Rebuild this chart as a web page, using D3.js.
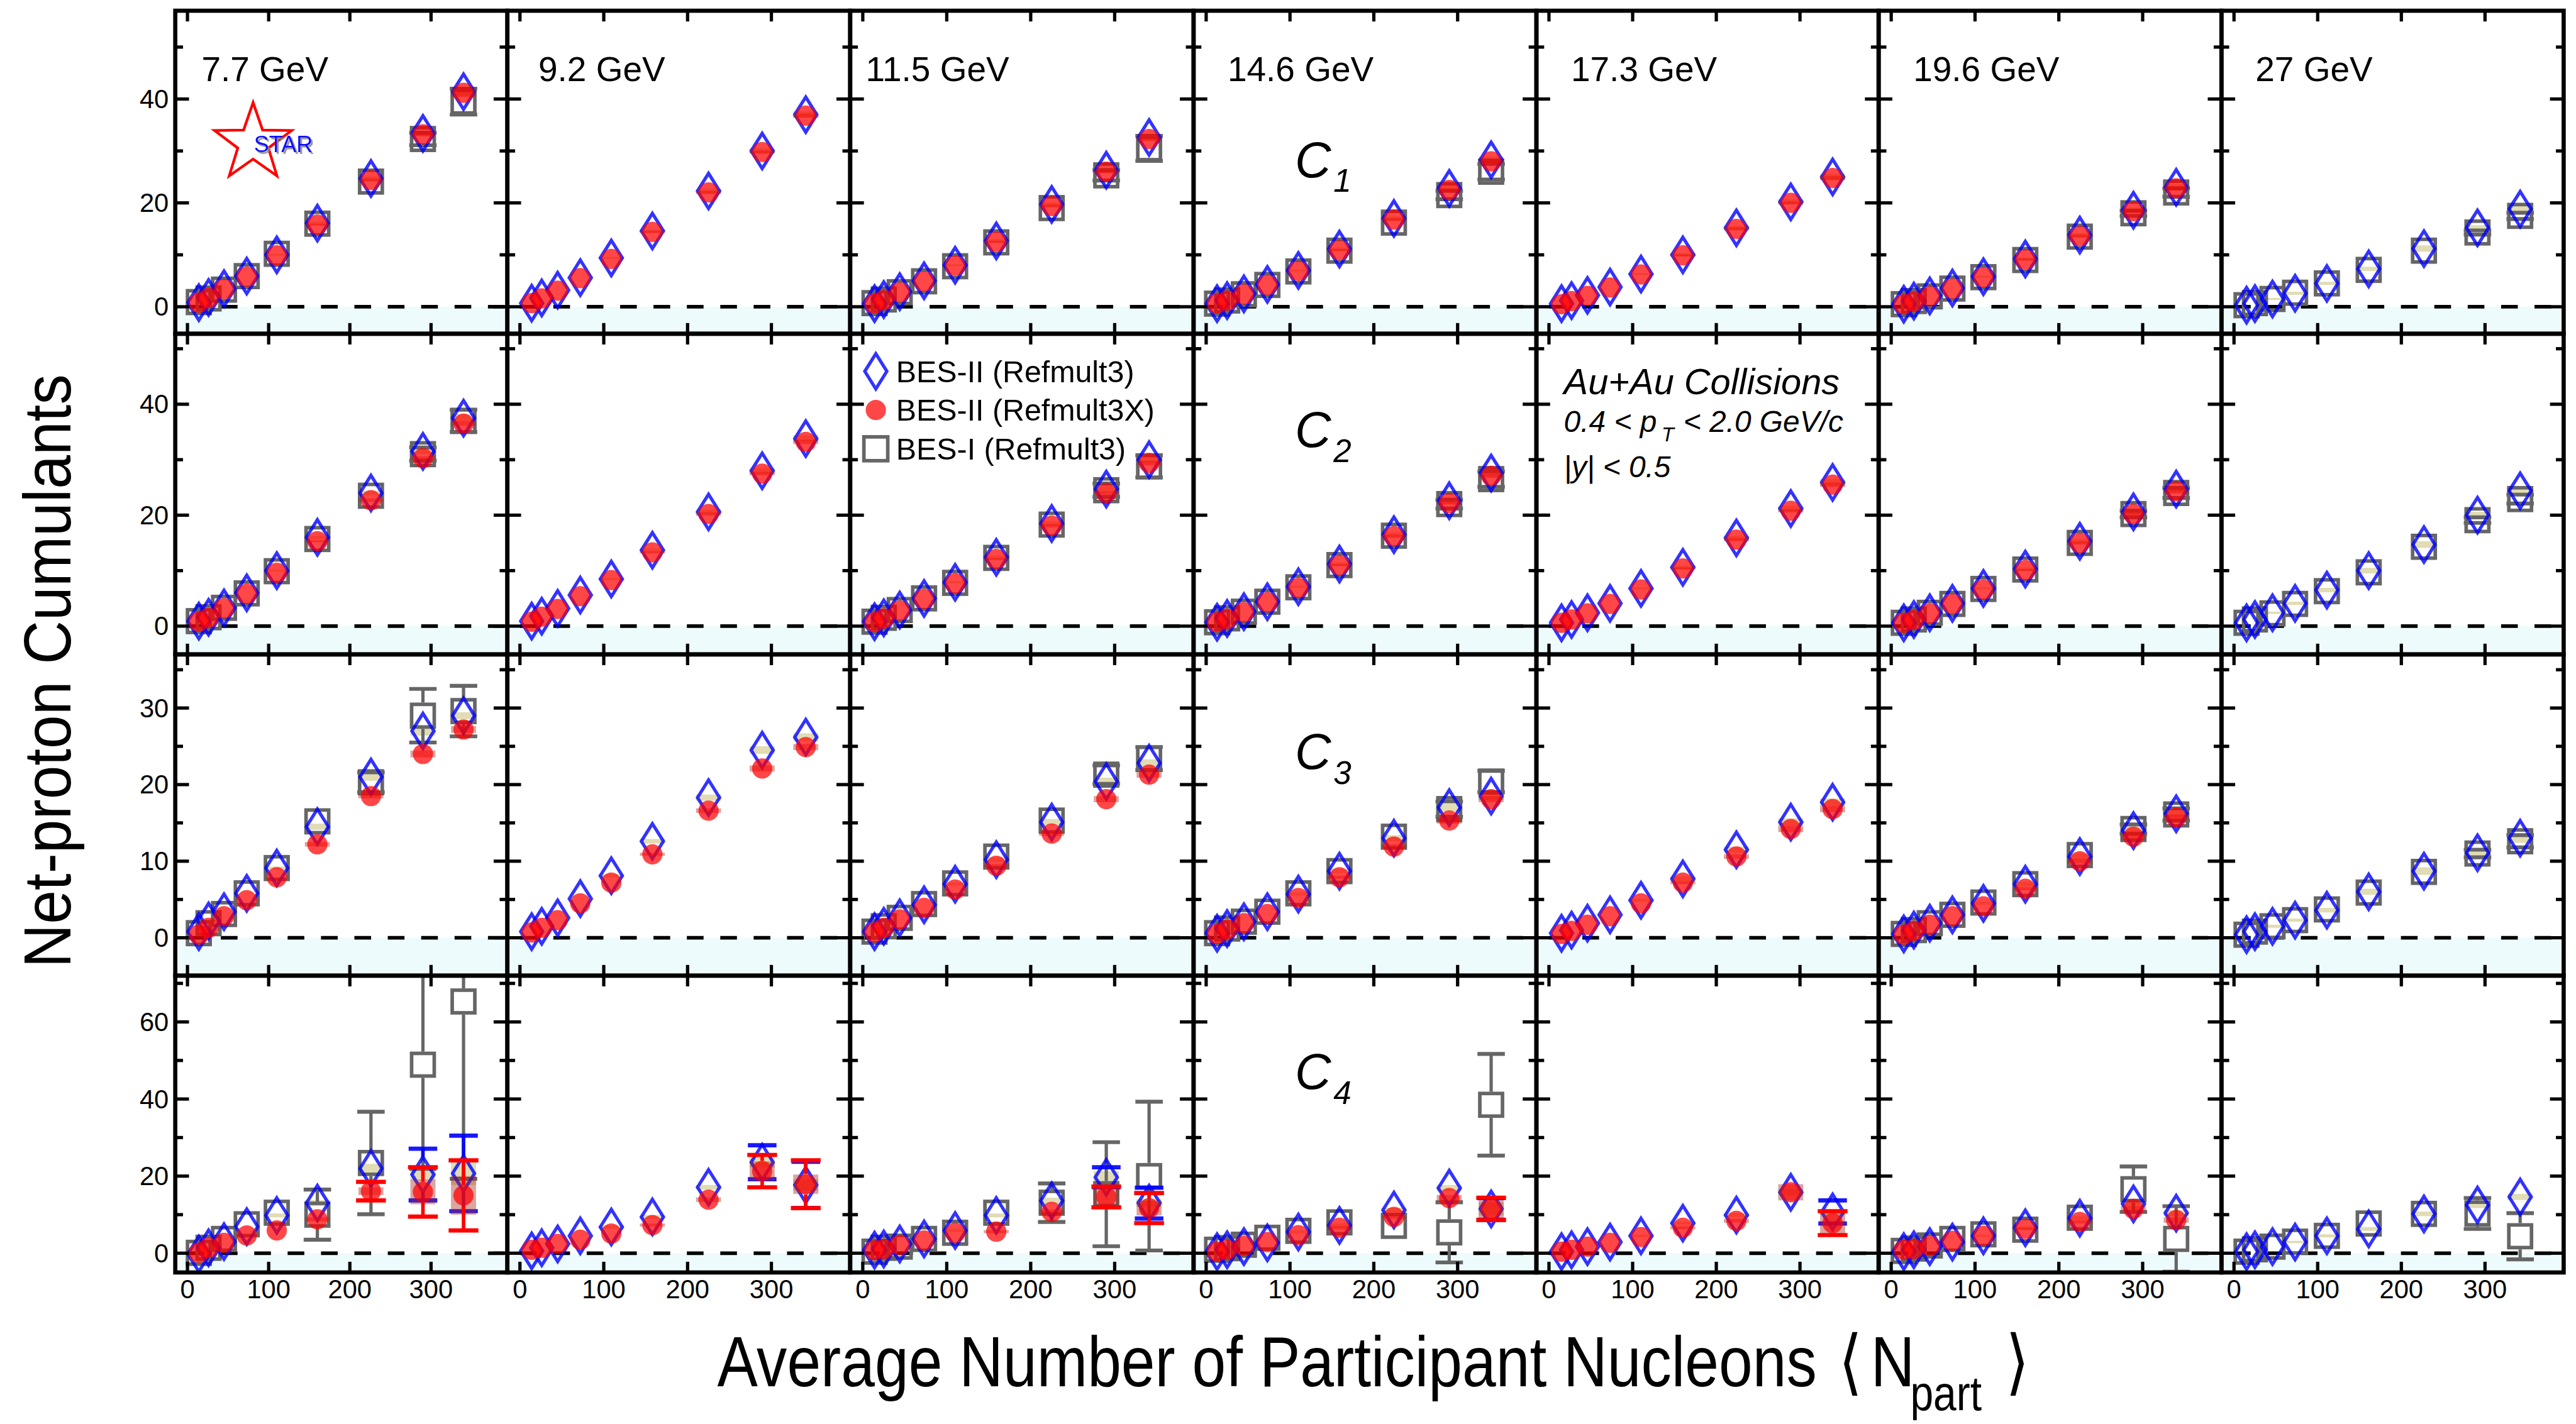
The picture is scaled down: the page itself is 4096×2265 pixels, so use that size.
<!DOCTYPE html>
<html><head><meta charset="utf-8">
<script src="https://cdn.jsdelivr.net/npm/d3@7/dist/d3.min.js"></script>
<style>html,body{margin:0;padding:0;background:#fff;overflow:hidden}svg{display:block}</style>
</head><body>
<script>
// ---------------- DATA ----------------
const energies = ["7.7 GeV","9.2 GeV","11.5 GeV","14.6 GeV","17.3 GeV","19.6 GeV","27 GeV"];
const cumulantOrders = ["1","2","3","4"];
const seriesNames = ["BES-II (Refmult3)","BES-II (Refmult3X)","BES-I (Refmult3)"];
const xTicks = [0,100,200,300];
const yTicks = [[0,20,40],[0,20,40],[0,10,20,30],[0,20,40,60]];
const yMinorTicks = [[10,30,50],[10,30,50],[5,15,25,35],[10,30,50,70]];
const xDomain = [-15,394];
const yDomains = [[-5.2,57],[-5.1,52.7],[-4.95,37],[-5,72]];

const npart = [
 [14,26,45,73,110,160,226,290,340],
 [14,26,45,72,109,158,225,289,341],
 [14,25,44,73,110,159,225,290,341],
 [13,25,45,73,110,159,224,290,340],
 [15,27,46,73,110,160,224,289,339],
 [15,27,46,73,110,160,225,289,340],
 [15,25,46,73,111,161,227,291,342]
];

// C1
const c1Ref3 = [
 [0.8,1.8,3.5,5.9,10.0,16.1,24.7,33.4,41.4],
 [0.7,1.7,3.2,5.6,9.4,14.6,22.3,30.0,37.0],
 [0.6,1.4,2.9,5.0,8.0,12.7,19.7,26.3,32.6],
 [0.6,1.2,2.5,4.3,7.0,11.1,17.0,22.8,28.3],
 [0.6,1.2,2.2,3.8,6.3,10.0,15.2,20.2,25.0],
 [0.5,1.1,2.1,3.6,5.8,9.2,13.8,18.6,23.0],
 [0.3,0.6,1.5,2.6,4.5,7.3,11.2,15.2,18.8]
];
const c1Ref3X = [
 [0.8,1.7,3.4,5.8,9.9,15.8,24.4,33.2,41.2],
 [0.7,1.6,3.1,5.5,9.2,14.4,22.0,29.8,36.8],
 [0.6,1.3,2.8,4.9,7.9,12.5,19.4,26.0,32.3],
 [0.6,1.2,2.4,4.2,6.9,10.9,16.8,22.5,28.0],
 [0.5,1.1,2.1,3.7,6.2,9.9,15.0,20.0,24.8],
 [0.5,1.0,2.0,3.5,5.7,9.1,13.6,18.4,22.8],
 null
];
const c1Bes1 = [
 [0.9,1.6,3.3,5.9,10.2,16.0,24.1,32.3,39.5],
 null,
 [0.7,1.4,2.8,4.9,7.8,12.4,19.0,25.3,30.5],
 [0.6,1.2,2.4,4.2,6.8,10.8,16.2,21.5,26.0],
 null,
 [0.5,1.1,2.0,3.5,5.7,9.0,13.5,18.0,22.0],
 [0.3,0.7,1.5,2.7,4.5,7.1,10.8,14.3,17.5]
];
const c1Bes1Err = [
 [0,0,0,0,0,0,0,1.2,2.5], null, [0,0,0,0,0,0,0,1.0,2.4], [0,0,0,0,0,0,0,0.8,1.5],
 null, [0,0,0,0,0,0,0,0.5,0.8], [0,0,0,0,0,0,0,0.4,0.6]
];
// C2
const c2Ref3 = [
 [0.9,1.6,3.3,6.0,10.0,16.0,24.0,31.5,37.5],
 [0.9,1.8,3.2,5.6,8.5,13.7,20.6,28.0,33.8],
 [0.8,1.5,2.9,5.0,7.9,12.4,18.5,24.7,30.0],
 [0.7,1.4,2.6,4.4,7.1,11.2,16.5,22.6,27.6],
 [0.6,1.2,2.4,4.1,6.8,10.6,15.9,21.2,25.9],
 [0.6,1.2,2.4,4.1,6.8,10.3,15.3,20.6,24.7],
 [0.6,1.2,2.4,4.1,6.5,10.0,14.7,20.0,24.4]
];
const c2Ref3X = [
 [0.8,1.5,3.2,5.8,9.6,15.3,22.7,30.3,36.5],
 [0.8,1.7,3.1,5.4,8.3,13.3,20.2,27.5,33.2],
 [0.7,1.4,2.8,4.9,7.7,12.1,18.1,24.0,29.4],
 [0.7,1.3,2.5,4.3,6.9,11.0,16.2,22.2,27.1],
 [0.6,1.2,2.3,4.0,6.6,10.4,15.6,20.8,25.5],
 [0.6,1.1,2.3,4.0,6.6,10.1,15.0,20.2,24.3],
 null
];
const c2Bes1 = [
 [0.9,1.6,3.3,5.9,9.9,15.7,23.5,31.0,37.0],
 null,
 [0.8,1.5,2.9,5.0,7.8,12.3,18.3,24.5,28.8],
 [0.7,1.4,2.6,4.4,7.0,11.0,16.3,22.0,26.5],
 null,
 [0.6,1.2,2.4,4.0,6.7,10.2,15.0,20.2,24.0],
 [0.6,1.2,2.3,4.0,6.3,9.7,14.3,19.1,22.9]
];
const c2Bes1Err = [
 [0,0,0,0,0,0,0,1.2,2.0], null, [0,0,0,0,0,0,0,1.2,2.0], [0,0,0,0,0,0,0,0.8,1.4],
 null, [0,0,0,0,0,0,0,0.6,0.9], [0,0,0,0,0,0,0,0.5,0.8]
];
// C3
const c3Ref3 = [
 [0.8,2.2,3.4,5.8,9.1,14.5,21.0,27.0,29.0],
 [0.8,1.5,2.6,5.1,8.1,12.6,18.3,24.5,26.2],
 [0.8,1.5,2.6,4.3,7.0,10.2,15.1,20.4,22.8],
 [0.6,1.2,2.1,3.4,5.7,8.7,13.0,17.0,18.5],
 [0.6,1.0,1.9,3.0,4.9,7.7,11.5,15.1,17.7],
 [0.5,1.0,1.9,3.0,4.5,7.0,10.6,14.0,16.2],
 [0.4,0.8,1.5,2.3,3.6,6.0,8.7,11.1,13.0]
];
const c3Ref3X = [
 [0.4,1.3,2.8,4.9,7.9,12.2,18.5,24.0,27.2],
 [0.7,1.3,2.3,4.5,7.2,10.9,16.6,22.1,24.9],
 [0.7,1.3,2.4,3.9,6.3,9.4,13.6,18.1,21.3],
 [0.5,1.1,1.9,3.1,5.2,7.9,11.9,15.3,18.1],
 [0.5,0.9,1.7,2.8,4.5,7.2,10.6,14.2,16.8],
 [0.4,0.9,1.7,2.8,4.1,6.4,10.0,13.2,15.7],
 null
];
const c3Bes1 = [
 [0.6,1.9,3.1,5.8,9.1,15.2,20.3,29.0,29.6],
 null,
 [0.8,1.5,2.6,4.4,7.1,10.6,15.3,21.3,23.4],
 [0.6,1.2,2.1,3.4,5.8,8.7,13.2,16.8,20.4],
 null,
 [0.5,1.0,1.9,3.0,4.6,7.0,10.8,14.2,16.1],
 [0.4,0.8,1.5,2.3,3.7,5.9,8.6,11.0,12.6]
];
const c3Bes1Err = [
 [0,0,0,0,0,0,1.3,3.5,3.3], null, [0,0,0,0,0,0,0,1.2,1.5], [0,0,0,0,0,0,0,1.0,1.4],
 null, [0,0,0,0,0,0,0,0.6,0.8], [0,0,0,0,0,0,0,0.5,0.8]
];
// C4
const c4Ref3 = [
 [-0.2,1.4,3.0,6.9,9.8,13.0,22.0,20.4,20.7],
 [0.6,1.4,2.4,4.5,6.8,9.4,17.1,23.6,17.7],
 [0.8,1.1,2.4,3.7,5.9,9.8,13.6,19.7,13.0],
 [0.4,0.9,1.7,2.7,5.5,7.2,11.2,16.9,11.5],
 [0.4,0.9,1.7,2.9,4.5,7.8,9.9,15.8,10.7],
 [0.4,0.9,1.7,2.9,4.5,6.6,9.1,12.8,10.4],
 [0.4,0.9,1.7,2.9,4.5,6.3,10.2,12.5,14.6]
];
const c4Ref3Err = [
 [0,0,0,0,0,0,0,6.7,9.8],
 [0,0,0,0,0,0,0,4.4,6.0],
 [0,0,0,0,0,0,0,2.6,4.0],
 [0,0,0,0,0,0,0,0,2.8],
 [0,0,0,0,0,0,0,0,3.0],
 null, null
];
const c4Ref3X = [
 [0.1,1.4,2.7,4.6,5.9,8.8,16.1,15.9,15.0],
 [0.9,1.4,2.4,3.5,5.1,7.3,13.9,21.3,17.9],
 [0.8,1.1,2.1,3.3,5.3,5.6,10.7,14.6,11.7],
 [0.4,0.9,1.9,2.9,4.7,6.6,9.4,14.3,11.5],
 [0.4,0.9,1.7,2.7,4.2,6.6,8.4,15.8,7.8],
 [0.9,1.1,1.9,3.2,4.5,6.3,8.1,11.5,8.6],
 null
];
const c4Ref3XErr = [
 [0,0,0,0,0,0,2.4,6.4,9.1],
 [0,0,0,0,0,0,0,4.2,6.2],
 [0,0,0,0,0,0,0,2.7,3.9],
 [0,0,0,0,0,0,0,0,2.9],
 [0,0,0,0,0,0,0,0,3.1],
 null, null
];
const c4Bes1 = [
 [0.1,1.4,3.7,7.5,10.5,10.0,23.4,48.9,65.3],
 null,
 [0.4,1.4,1.7,3.7,5.3,10.5,13.1,15.3,20.0],
 [0.9,1.3,2.2,4.0,5.8,8.0,7.1,5.4,38.5],
 null,
 [0.6,1.2,2.0,3.7,4.9,6.1,9.2,16.6,3.7],
 [0.4,1.0,1.7,3.0,4.5,7.7,10.2,10.3,4.4]
];
const c4Bes1Err = [
 [0,0,0,0,0,6.5,13.3,27,46],
 null,
 [0,0,0,0,0,0,5.0,13.5,19.3],
 [0,0,0,0,0,0,0,7.8,13.2],
 null,
 [0,0,0,0,0,0,0,5.9,8.5],
 [0,0,0,0,0,0,0,4.0,6.0]
];
// systematic uncertainties (boxes)
const sysRef3C1 = [
 [0,0,0,0,0.2,0.3,0.4,0.5,0.8],[0,0,0,0,0.2,0.3,0.4,0.5,0.6],[0,0,0,0,0.2,0.3,0.4,0.5,0.6],
 [0,0,0,0,0.2,0.3,0.4,0.5,0.6],[0,0,0,0,0.2,0.3,0.4,0.5,0.6],[0,0,0,0,0.2,0.3,0.4,0.5,0.6],
 [0,0,0.2,0.3,0.3,0.4,0.6,0.5,0.9]
];
const sysRef3C2 = [
 [0,0,0,0,0.2,0.3,0.4,0.5,0.7],[0,0,0,0,0.2,0.3,0.4,0.5,0.6],[0,0,0,0,0.2,0.3,0.4,0.5,0.6],
 [0,0,0,0,0.2,0.3,0.4,0.5,0.6],[0,0,0,0,0.2,0.3,0.4,0.5,0.6],[0,0,0,0,0.2,0.3,0.4,0.5,0.6],
 [0,0,0.2,0.3,0.4,0.5,0.6,0.6,0.8]
];
const sysRef3C3 = [
 [0,0,0,0,0.2,0.4,0.5,0.6,0.45],[0,0,0,0,0.2,0.3,0.4,0.5,0.5],[0,0,0,0,0.2,0.3,0.4,0.5,0.5],
 [0,0,0,0,0.2,0.3,0.4,0.5,0.5],[0,0,0,0,0.2,0.3,0.4,0.5,0.5],[0,0,0,0,0.2,0.3,0.4,0.5,0.5],
 [0,0,0.2,0.2,0.3,0.4,0.5,0.5,0.6]
];
const sysRef3C4 = [
 [0,0,0,0,0.5,0.8,1.2,1.5,3.0],[0,0,0,0,0.4,0.5,0.6,1.4,1.5],[0,0,0,0,0.4,0.5,0.8,1.6,1.0],
 [0,0,0,0,0.4,0.5,0.6,0.8,1.7],[0,0,0,0,0.3,0.4,0.5,0.8,0.8],[0,0,0,0,0.3,0.4,0.5,0.8,0.8],
 [0,0,0,0.3,0.4,0.5,0.6,0.8,0.8]
];
const sysRef3XC1 = [
 [0,0,0,0,0,0.2,0.3,0.4,0.8],[0,0,0,0,0,0.2,0.3,0.3,0.4],[0,0,0,0,0,0.2,0.3,0.3,0.4],
 [0,0,0,0,0,0.2,0.3,0.3,0.4],[0,0,0,0,0,0.2,0.3,0.3,0.4],[0,0,0,0,0,0.2,0.3,0.3,0.4],null
];
const sysRef3XC2 = [
 [0,0,0,0,0,0.2,0.3,0.3,0.4],[0,0,0,0,0,0.2,0.3,0.3,0.4],[0,0,0,0,0,0.2,0.3,0.3,0.4],
 [0,0,0,0,0,0.2,0.3,0.3,0.4],[0,0,0,0,0,0.2,0.3,0.3,0.4],[0,0,0,0,0,0.2,0.3,0.3,0.4],null
];
const sysRef3XC3 = [
 [0,0,0,0,0,0.3,0.3,0.45,0.45],[0,0,0,0,0,0.2,0.3,0.4,0.4],[0,0,0,0,0,0.2,0.3,0.4,0.4],
 [0,0,0,0,0,0.2,0.3,0.4,0.4],[0,0,0,0,0,0.2,0.3,0.4,0.4],[0,0,0,0,0,0.2,0.3,0.4,0.4],null
];
const sysRef3XC4 = [
 [0,0,0,0,0,0.5,1.0,3.2,5.0],[0,0,0,0,0,0.4,0.6,2.5,2.5],[0,0,0,0,0,0.4,0.6,2.2,1.9],
 [0,0,0,0,0,0.4,0.5,0.8,2.3],[0,0,0,0,0,0.4,0.5,2.1,3.2],[0,0,0,0,0,0.3,0.4,0.6,0.7],null
];

// ---------------- LAYOUT / STYLE ----------------
const SCALE = 0.948;
const colEdges = [294,851,1426,2002,2577,3151,3726,4300];
const rowEdges = [18,560,1098,1637,2135];
const FONT = '"Liberation Sans", Arial, Helvetica, sans-serif';
const BLUE = "rgba(0,0,255,0.8)", RED = "rgba(255,0,0,0.72)", GREY = "#666666";
const TAN = "rgba(195,185,105,0.5)", PINK = "rgba(170,40,30,0.42)", CYAN = "#eefbfc";
const energyLabelDx = [44,52,26,57,58,58,57];

const cumTable = [
 {ref3:c1Ref3, ref3x:c1Ref3X, bes1:c1Bes1, ref3Err:null, ref3xErr:null, bes1Err:c1Bes1Err, sysA:sysRef3C1, sysB:sysRef3XC1},
 {ref3:c2Ref3, ref3x:c2Ref3X, bes1:c2Bes1, ref3Err:null, ref3xErr:null, bes1Err:c2Bes1Err, sysA:sysRef3C2, sysB:sysRef3XC2},
 {ref3:c3Ref3, ref3x:c3Ref3X, bes1:c3Bes1, ref3Err:null, ref3xErr:null, bes1Err:c3Bes1Err, sysA:sysRef3C3, sysB:sysRef3XC3},
 {ref3:c4Ref3, ref3x:c4Ref3X, bes1:c4Bes1, ref3Err:c4Ref3Err, ref3xErr:c4Ref3XErr, bes1Err:c4Bes1Err, sysA:sysRef3C4, sysB:sysRef3XC4}
];
const pick = (arr, c) => (arr && arr[c]) ? arr[c] : null;

const svg = d3.select("body").append("svg").attr("width",4096).attr("height",2265);
const defs = svg.append("defs");
const shadow = defs.append("filter").attr("id","starShadow").attr("x","-20%").attr("y","-20%").attr("width","140%").attr("height","140%");
shadow.append("feDropShadow").attr("dx",3).attr("dy",3).attr("stdDeviation",0.6).attr("flood-color","#8a8a8a").attr("flood-opacity",0.9);
const root = svg.append("g").attr("transform",`scale(${SCALE})`);
const panelLayer = root.append("g");
const frameLayer = root.append("g");
const textLayer = root.append("g").attr("font-family",FONT);

const DHW = 18.5, DHH = 29.5, SQ = 38, CR = 17;
const diamondPath = `M0,${-DHH}L${DHW},0L0,${DHH}L${-DHW},0Z`;

function drawSys(g, x, y, xs, vals, sys, color) {
  if (!vals || !sys) return;
  vals.forEach((v,i) => {
    if (!sys[i]) return;
    g.append("rect").attr("x", x(xs[i]) - 21).attr("width", 42)
     .attr("y", y(v + sys[i])).attr("height", Math.max(2, y(v - sys[i]) - y(v + sys[i])))
     .attr("fill", color);
  });
}
function drawErr(g, x, y, xs, vals, errs, color, w, capW, gap, dom) {
  if (!vals || !errs) return;
  vals.forEach((v,i) => {
    const e = errs[i]; if (!e) return;
    const hi = Math.min(v + e, dom[1]), lo = Math.max(v - e, dom[0]);
    const cx = x(xs[i]), yv = y(v), yh = y(hi), yl = y(lo);
    if (yv - gap > yh) g.append("line").attr("x1",cx).attr("x2",cx).attr("y1",yh).attr("y2",yv-gap).attr("stroke",color).attr("stroke-width",w);
    if (yv + gap < yl) g.append("line").attr("x1",cx).attr("x2",cx).attr("y1",yv+gap).attr("y2",yl).attr("stroke",color).attr("stroke-width",w);
    [yh, yl].forEach(yy => g.append("line").attr("x1",cx-capW/2).attr("x2",cx+capW/2).attr("y1",yy).attr("y2",yy).attr("stroke",color).attr("stroke-width",w+1));
  });
}

for (let r = 0; r < 4; r++) {
  for (let c = 0; c < 7; c++) {
    const x = d3.scaleLinear().domain(xDomain).range([colEdges[c], colEdges[c+1]]);
    const y = d3.scaleLinear().domain(yDomains[r]).range([rowEdges[r+1], rowEdges[r]]);
    const id = `clip-${r}-${c}`;
    defs.append("clipPath").attr("id", id).append("rect")
      .attr("x", colEdges[c]).attr("y", rowEdges[r])
      .attr("width", colEdges[c+1]-colEdges[c]).attr("height", rowEdges[r+1]-rowEdges[r]);
    const g = panelLayer.append("g").attr("clip-path", `url(#${id})`);
    g.append("rect").attr("x", colEdges[c]).attr("y", y(0))
      .attr("width", colEdges[c+1]-colEdges[c]).attr("height", rowEdges[r+1]-y(0)).attr("fill", CYAN);
    g.append("line").attr("x1", x(0)).attr("x2", colEdges[c+1]).attr("y1", y(0)).attr("y2", y(0))
      .attr("stroke","#000").attr("stroke-width",6).attr("stroke-dasharray","28,28");

    const d = cumTable[r], xs = npart[c], dom = yDomains[r];
    const ref3 = pick(d.ref3,c), ref3x = pick(d.ref3x,c), bes1 = pick(d.bes1,c);

    drawSys(g, x, y, xs, ref3, pick(d.sysA,c), TAN);
    drawErr(g, x, y, xs, bes1, pick(d.bes1Err,c), GREY, 5.5, 46, SQ/2+3, dom);
    if (bes1) g.selectAll(null).data(bes1).enter().append("rect")
      .attr("x",(v,i)=>x(xs[i])-SQ/2).attr("y",v=>y(v)-SQ/2).attr("width",SQ).attr("height",SQ)
      .attr("fill","none").attr("stroke",GREY).attr("stroke-width",6);
    drawErr(g, x, y, xs, ref3, pick(d.ref3Err,c), "rgba(0,0,255,0.9)", 6, 48, DHH, dom);
    if (ref3) g.selectAll(null).data(ref3).enter().append("path")
      .attr("d", diamondPath).attr("transform",(v,i)=>`translate(${x(xs[i])},${y(v)})`)
      .attr("fill","none").attr("stroke",BLUE).attr("stroke-width",5.5);
    drawSys(g, x, y, xs, ref3x, pick(d.sysB,c), PINK);
    drawErr(g, x, y, xs, ref3x, pick(d.ref3xErr,c), "#ff0000", 6, 50, CR, dom);
    if (ref3x) g.selectAll(null).data(ref3x).enter().append("circle")
      .attr("cx",(v,i)=>x(xs[i])).attr("cy",v=>y(v)).attr("r",CR).attr("fill",RED);

    // frame and ticks
    const f = frameLayer.append("g").attr("stroke","#000");
    f.append("rect").attr("x", colEdges[c]).attr("y", rowEdges[r])
      .attr("width", colEdges[c+1]-colEdges[c]).attr("height", rowEdges[r+1]-rowEdges[r])
      .attr("fill","none").attr("stroke-width",7);
    xTicks.forEach(t => {
      f.append("line").attr("x1",x(t)).attr("x2",x(t)).attr("y1",rowEdges[r+1]).attr("y2",rowEdges[r+1]-18).attr("stroke-width",5.5);
      f.append("line").attr("x1",x(t)).attr("x2",x(t)).attr("y1",rowEdges[r]).attr("y2",rowEdges[r]+18).attr("stroke-width",5.5);
    });
    yTicks[r].forEach(t => {
      f.append("line").attr("x1",colEdges[c]).attr("x2",colEdges[c]+23).attr("y1",y(t)).attr("y2",y(t)).attr("stroke-width",5.5);
      f.append("line").attr("x1",colEdges[c+1]).attr("x2",colEdges[c+1]-23).attr("y1",y(t)).attr("y2",y(t)).attr("stroke-width",5.5);
    });
    yMinorTicks[r].forEach(t => {
      f.append("line").attr("x1",colEdges[c]).attr("x2",colEdges[c]+13).attr("y1",y(t)).attr("y2",y(t)).attr("stroke-width",5.5);
      f.append("line").attr("x1",colEdges[c+1]).attr("x2",colEdges[c+1]-13).attr("y1",y(t)).attr("y2",y(t)).attr("stroke-width",5.5);
    });
    if (c === 0) {
      yTicks[r].forEach(t => textLayer.append("text").attr("x", colEdges[0]-11).attr("y", y(t))
        .attr("text-anchor","end").attr("dominant-baseline","central").attr("font-size",44).text(t));
    }
    if (r === 3) {
      xTicks.forEach(t => textLayer.append("text").attr("x", x(t)).attr("y", 2178)
        .attr("text-anchor","middle").attr("font-size",44).text(t));
    }
    if (r === 0) {
      textLayer.append("text").attr("x", colEdges[c] + energyLabelDx[c]).attr("y", 136)
        .attr("font-size", 58).text(energies[c]);
    }
  }
}

// cumulant labels (in 14.6 GeV column)
const cLabelBaselines = [297, 750, 1290, 1827];
cumulantOrders.forEach((o, r) => {
  const t = textLayer.append("text").attr("x", colEdges[3] + 170).attr("y", cLabelBaselines[r])
    .attr("font-size", 84).attr("font-style","italic").text("C");
  t.append("tspan").attr("dx", 4).attr("dy", 25).attr("font-size", 54).text(o);
});

// legend (11.5 GeV, C2 panel)
const legY = [623, 688, 753], legX = 1469;
const lg = textLayer.append("g");
lg.append("path").attr("d", diamondPath).attr("transform",`translate(${legX},${legY[0]})`)
  .attr("fill","none").attr("stroke",BLUE).attr("stroke-width",5.5);
lg.append("circle").attr("cx",legX).attr("cy",legY[1]).attr("r",CR).attr("fill",RED);
lg.append("rect").attr("x",legX-20).attr("y",legY[2]-20).attr("width",40).attr("height",40)
  .attr("fill","none").attr("stroke",GREY).attr("stroke-width",6);
seriesNames.forEach((s,i) => lg.append("text").attr("x",1503).attr("y",legY[i]+18).attr("font-size",51).text(s));

// Au+Au text block (17.3 GeV, C2 panel)
const ax = 2623;
textLayer.append("text").attr("x",ax).attr("y",661).attr("font-size",61).attr("font-style","italic").text("Au+Au Collisions");
const l2 = textLayer.append("text").attr("x",ax).attr("y",725).attr("font-size",50.5).attr("font-style","italic");
l2.append("tspan").text("0.4 < p");
l2.append("tspan").attr("dx",8).attr("dy",16).attr("font-size",34).text("T");
l2.append("tspan").attr("dx",2).attr("dy",-16).text(" < 2.0 GeV/c");
textLayer.append("text").attr("x",ax).attr("y",801).attr("font-size",50.5).attr("font-style","italic").text("|y| < 0.5");

// STAR logo
const starPts = d3.range(10).map(k => {
  const rr = k % 2 ? 27 : 68, a = -Math.PI/2 + k*Math.PI/5;
  return [424.5 + rr*Math.cos(a), 240 + rr*Math.sin(a)];
});
textLayer.append("path").attr("d", d3.line()(starPts) + "Z").attr("fill","none").attr("stroke","#ff0000").attr("stroke-width",4.5);
textLayer.append("text").attr("x",426).attr("y",255).attr("font-size",38).attr("fill","#1010ff")
  .attr("filter","url(#starShadow)").text("STAR");

// axis titles
textLayer.append("text").attr("transform","translate(118,1126) rotate(-90)").attr("text-anchor","middle")
  .attr("font-size",112).attr("textLength",996).attr("lengthAdjust","spacingAndGlyphs").text("Net-proton Cumulants");
const SX = 0.849;
const xt = textLayer.append("text").attr("transform",`translate(1203,2326) scale(${SX},1)`).attr("font-size",120);
xt.append("tspan").attr("x",0).attr("y",0).text("Average Number of Participant Nucleons");
xt.append("tspan").attr("x",(3084-1203)/SX).attr("y",0).attr("font-family","DejaVu Sans").text("\u27E8");
xt.append("tspan").attr("x",(3138-1203)/SX).attr("y",0).text("N");
xt.append("tspan").attr("x",(3204-1203)/SX).attr("y",40).attr("font-size",82).text("part");
xt.append("tspan").attr("x",(3364-1203)/SX).attr("y",0).attr("font-family","DejaVu Sans").text("\u27E9");
</script>
</body></html>
